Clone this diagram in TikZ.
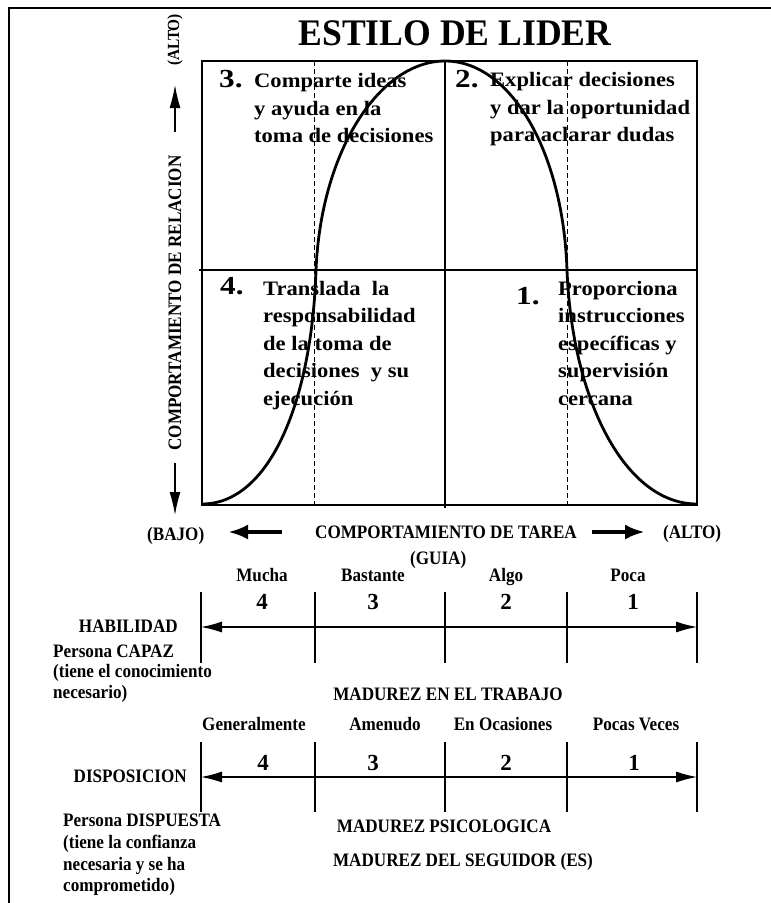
\documentclass[tikz,border=0pt]{standalone}
\usepackage{fontspec}
\setmainfont{Liberation Serif}
\newfontfamily\qfont[FakeStretch=1.1]{Liberation Serif}
\newfontfamily\cfont[FakeStretch=0.9]{Liberation Serif}
\newfontfamily\nfont[FakeStretch=1.2]{Liberation Serif}
\newfontfamily\tfont[FakeStretch=0.95]{Liberation Serif}
\usetikzlibrary{arrows.meta}
\tikzset{
  qtext/.style={anchor=north west, align=left, inner sep=0pt, font=\qfont\bfseries\fontsize{20.5}{27.5}\selectfont},
  qnum/.style={anchor=base west, inner sep=0pt, font=\nfont\bfseries\fontsize{26}{26}\selectfont},
  btxt/.style={inner sep=0pt, font=\cfont\bfseries\fontsize{19}{21.5}\selectfont},
  bnum/.style={anchor=base, inner sep=0pt, font=\bfseries\fontsize{23}{23}\selectfont},
  frame/.style={line width=2pt},
  boxline/.style={line width=1.3pt},
  dashline/.style={line width=1pt, dash pattern=on 5pt off 3pt},
  curve/.style={line width=2.8pt, line join=round},
  tick/.style={line width=1.2pt},
  scale arrow/.style={line width=1.2pt, {Latex[length=21pt,width=11pt]}-{Latex[length=21pt,width=11pt]}},
  thick arrow/.style={line width=4.5pt, -{Latex[length=20pt,width=15pt]}},
  vert arrow/.style={line width=1.2pt, -{Latex[length=23pt,width=11pt]}}
}
\begin{document}
\begin{tikzpicture}[x=1pt,y=-1pt]
\useasboundingbox (0,0) rectangle (771,903);
% outer frame (top and left)
\draw[frame] (771,8) -- (9,8) -- (9,903);
% title
\node[anchor=base, inner sep=0pt, font=\tfont\bfseries\fontsize{37.5}{37.5}\selectfont] (title) at (455,45) {ESTILO DE LIDER};
% main box
\coordinate (bl) at (202,505);
\coordinate (tr) at (697,61);
\draw[boxline] (bl) rectangle (tr);
\coordinate (hl) at (199,270); \coordinate (hr) at (697,270);
\draw[boxline] (hl) -- (hr);
\coordinate (vt) at (445,61); \coordinate (vb) at (445,508);
\draw[boxline] (vt) -- (vb);
\coordinate (d1t) at (314,61); \coordinate (d1b) at (314,505);
\coordinate (d2t) at (567,61); \coordinate (d2b) at (567,505);
\draw[dashline] (d1t) -- (d1b);
\draw[dashline] (d2t) -- (d2b);
% bell curve
\coordinate (c0) at (202,504);
\coordinate (c1) at (316,270);
\coordinate (c2) at (445,61);
\coordinate (c3) at (567,270);
\coordinate (c4) at (697,504);
\draw[curve] (c0) .. controls (270,504) and (312,400) .. (c1)
  .. controls (321,150) and (380,61) .. (c2)
  .. controls (510,61) and (563,150) .. (c3)
  .. controls (572,400) and (625,504) .. (c4);
% quadrant texts
\node[qnum] (n3) at (219,87) {3.};
\node[qtext] (t3) at (254,73.5) {Comparte ideas\\y ayuda en la\\toma de decisiones};
\node[qnum] (n2) at (455,87) {2.};
\node[qtext] (t2) at (490,72.5) {Explicar decisiones\\y dar la oportunidad\\para aclarar dudas};
\node[qnum] (n4) at (220,294) {4.};
\node[qtext] (t4) at (263,281) {Translada\ \ la\\responsabilidad\\de la toma de\\decisiones\ \ y su\\ejecución};
\node[qnum] (n1) at (516,304) {1.};
\node[qtext] (t1) at (558,281) {Proporciona\\instrucciones\\específicas y\\supervisión\\cercana};
% vertical axis
\node[btxt, rotate=90, font=\cfont\bfseries\fontsize{17}{17}\selectfont] (alto1) at (175,40) {(ALTO)};
\node[btxt, rotate=90] (rel) at (175,303) {COMPORTAMIENTO DE RELACION};
\coordinate (ua) at (175,132); \coordinate (ub) at (175,85);
\draw[vert arrow] (ua) -- (ub);
\coordinate (da) at (175,463); \coordinate (db) at (175,515);
\draw[vert arrow] (da) -- (db);
% horizontal axis
\node[btxt, anchor=base west] (bajo) at (147,540) {(BAJO)};
\node[btxt, anchor=base west] (tarea) at (315,538) {COMPORTAMIENTO DE TAREA};
\node[btxt, anchor=base west] (alto2) at (663,538) {(ALTO)};
\node[btxt, anchor=base west] (guia) at (410,564) {(GUIA)};
\coordinate (la) at (282,532); \coordinate (lb) at (228,532);
\draw[thick arrow] (la) -- (lb);
\coordinate (ra) at (592,532); \coordinate (rb) at (645,532);
\draw[thick arrow] (ra) -- (rb);
% scale 1
\foreach \x/\n in {201/a,315/b,445/c,567/d,697/e} {
  \coordinate (s1\n t) at (\x,592); \coordinate (s1\n b) at (\x,663);
  \draw[tick] (s1\n t) -- (s1\n b);
}
\coordinate (s1l) at (201,627); \coordinate (s1r) at (697,627);
\draw[scale arrow] (s1l) -- (s1r);
\node[btxt, anchor=base] (mucha) at (262,581) {Mucha};
\node[btxt, anchor=base] (bastante) at (373,581) {Bastante};
\node[btxt, anchor=base] (algo) at (506,581) {Algo};
\node[btxt, anchor=base] (poca) at (628,581) {Poca};
\node[bnum] (a4) at (262,609) {4};
\node[bnum] (a3) at (373,609) {3};
\node[bnum] (a2) at (506,609) {2};
\node[bnum] (a1) at (633,609) {1};
\node[btxt, anchor=base east] (hab) at (178,632) {HABILIDAD};
\node[btxt, anchor=north west, align=left, font=\cfont\bfseries\fontsize{19}{20.5}\selectfont] (capaz) at (53,644.5) {Persona CAPAZ\\(tiene el conocimiento\\necesario)};
\node[btxt, anchor=base] (mtrab) at (448,700) {MADUREZ EN EL TRABAJO};
% scale 2
\foreach \x/\n in {201/a,315/b,445/c,567/d,697/e} {
  \coordinate (s2\n t) at (\x,742); \coordinate (s2\n b) at (\x,812);
  \draw[tick] (s2\n t) -- (s2\n b);
}
\coordinate (s2l) at (201,777); \coordinate (s2r) at (697,777);
\draw[scale arrow] (s2l) -- (s2r);
\node[btxt, anchor=base] (gen) at (254,730) {Generalmente};
\node[btxt, anchor=base] (amen) at (385,730) {Amenudo};
\node[btxt, anchor=base] (ocas) at (503,730) {En Ocasiones};
\node[btxt, anchor=base] (pocas) at (636,730) {Pocas Veces};
\node[bnum] (b4) at (263,770) {4};
\node[bnum] (b3) at (373,770) {3};
\node[bnum] (b2) at (506,770) {2};
\node[bnum] (b1) at (634,770) {1};
\node[btxt, anchor=base east] (disp) at (187,782) {DISPOSICION};
\node[btxt, anchor=north west, align=left, font=\cfont\bfseries\fontsize{19}{21.7}\selectfont] (dispuesta) at (63,814) {Persona DISPUESTA\\(tiene la confianza\\necesaria y se ha\\comprometido)};
\node[btxt, anchor=base] (psico) at (444,832) {MADUREZ PSICOLOGICA};
\node[btxt, anchor=base] (seg) at (463,866) {MADUREZ DEL SEGUIDOR (ES)};
\end{tikzpicture}
\end{document}
